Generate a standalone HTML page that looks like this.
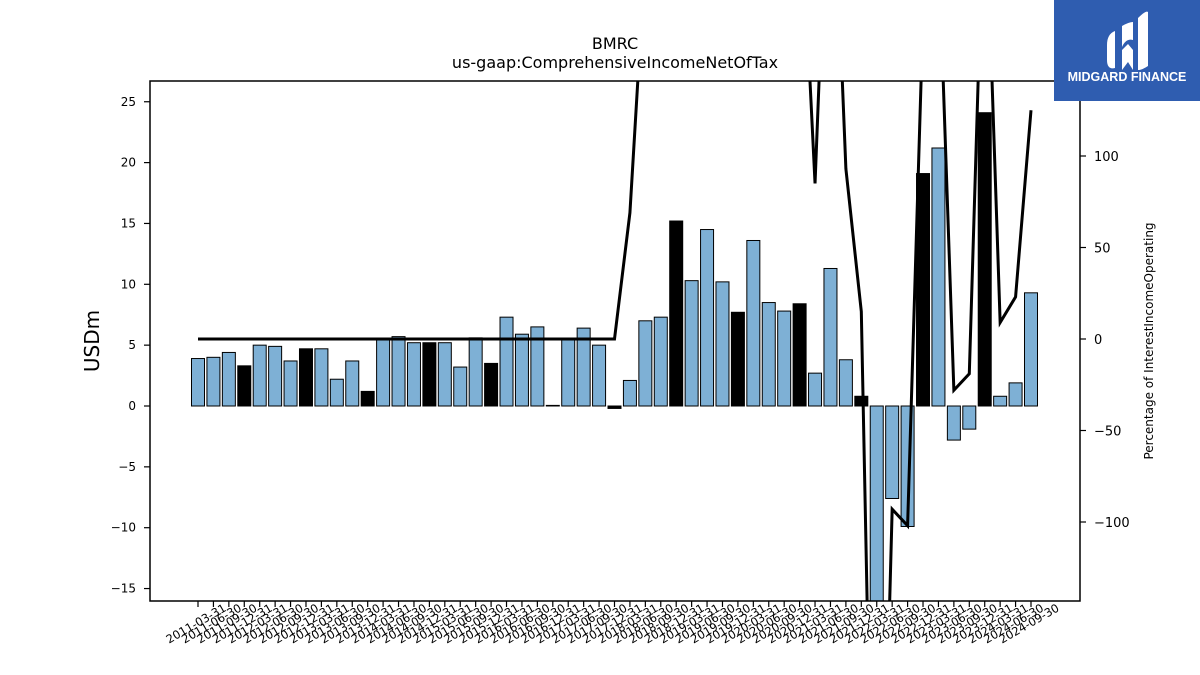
<!DOCTYPE html>
<html><head><meta charset="utf-8"><style>
html,body{margin:0;padding:0;overflow:hidden;width:1200px;height:675px;background:#fff;font-family:"Liberation Sans","DejaVu Sans",sans-serif}
svg{display:block}
</style></head><body>
<svg id="c" width="1200" height="675" xmlns="http://www.w3.org/2000/svg" font-family="DejaVu Sans, Liberation Sans, sans-serif">
<rect width="1200" height="675" fill="#fff"/>
<text x="615" y="49" font-size="16" text-anchor="middle">BMRC</text>
<text x="615" y="68" font-size="16" text-anchor="middle">us-gaap:ComprehensiveIncomeNetOfTax</text>
<text transform="translate(99,341) rotate(-90)" font-size="20" text-anchor="middle">USDm</text>
<text transform="translate(1153,341) rotate(-90)" font-size="12" text-anchor="middle">Percentage of InterestIncomeOperating</text>
<defs><clipPath id="clip"><rect x="150" y="81" width="930" height="520"/></clipPath></defs>
<g id="bars"></g>
<g id="line" clip-path="url(#clip)"></g>
<rect x="150" y="81" width="930" height="520" fill="none" stroke="#000" stroke-width="1.5"/>
<g id="axes"></g>
<g>
<rect x="1054" y="0" width="146" height="101" fill="#2f5db0"/>
<path d="M1107 45 Q1107 34 1115 31 L1115 68 Q1107 70 1107 60 Z" fill="#fff"/>
<path d="M1122 26 Q1129 22 1133 22 L1133 40 Q1126 38 1122 47 Z M1122 50 L1128 44 L1133 50 L1133 70 L1128 62 L1122 70 Z" fill="#fff"/>
<path d="M1138 18 Q1146 10 1148 12 L1148 66 Q1142 70 1138 70 Z" fill="#fff"/>
<text x="1127" y="81" font-size="12.5" font-weight="bold" fill="#fff" text-anchor="middle" font-family="Liberation Sans, sans-serif">MIDGARD FINANCE</text>
</g>
</svg>
<script>
const categories=["2011-03-31","2011-06-30","2011-09-30","2011-12-31","2012-03-31","2012-06-30","2012-09-30","2012-12-31","2013-03-31","2013-06-30","2013-09-30","2013-12-31","2014-03-31","2014-06-30","2014-09-30","2014-12-31","2015-03-31","2015-06-30","2015-09-30","2015-12-31","2016-03-31","2016-06-30","2016-09-30","2016-12-31","2017-03-31","2017-06-30","2017-09-30","2017-12-31","2018-03-31","2018-06-30","2018-09-30","2018-12-31","2019-03-31","2019-06-30","2019-09-30","2019-12-31","2020-03-31","2020-06-30","2020-09-30","2020-12-31","2021-03-31","2021-06-30","2021-09-30","2021-12-31","2022-03-31","2022-06-30","2022-09-30","2022-12-31","2023-03-31","2023-06-30","2023-09-30","2023-12-31","2024-03-31","2024-06-30","2024-09-30"];
const incomeValues=[3.9,4.0,4.4,3.3,5.0,4.9,3.7,4.7,4.7,2.2,3.7,1.2,5.5,5.7,5.2,5.2,5.2,3.2,5.6,3.5,7.3,5.9,6.5,0.05,5.5,6.4,5.0,-0.2,2.1,7.0,7.3,15.2,10.3,14.5,10.2,7.7,13.6,8.5,7.8,8.4,2.7,11.3,3.8,0.8,-16.5,-7.6,-9.9,19.1,21.2,-2.8,-1.9,24.1,0.8,1.9,9.3];
const pctValues=[0,0,0,0,0,0,0,0,0,0,0,0,0,0,0,0,0,0,0,0,0,0,0,0,0,0,0,0,69,210,230,250,260,260,260,260,260,260,260,256,85,300,93,15,-406,-93,-102,176,217,-28,-19,260,9,23,125];
const leftTicks=[-15,-10,-5,0,5,10,15,20,25];
const rightTicks=[-100,-50,0,50,100];
const NS="http://www.w3.org/2000/svg";
const X0=150,X1=1080,Y0=81,Y1=601;
const yL=v=>406-v*12.17;
const yR=v=>339-v*1.83;
const xC=i=>198+i*(1031-198)/(categories.length-1);
function mk(tag,attrs,parent){const e=document.createElementNS(NS,tag);for(const k in attrs)e.setAttribute(k,attrs[k]);parent.appendChild(e);return e;}
const bars=document.getElementById('bars'),line=document.getElementById('line'),axes=document.getElementById('axes');
incomeValues.forEach((v,i)=>{
  const top=Math.max(Y0,Math.min(yL(Math.max(v,0)),Y1)),bot=Math.min(Y1,yL(Math.min(v,0)));
  const q4=categories[i].endsWith('12-31');
  const r=mk('rect',{x:xC(i)-6.5,y:top,width:13,height:Math.max(bot-top,0.5),fill:q4?'#000':'#7eb0d5',stroke:'#000','stroke-width':1},bars);
  
  
});
const pl=mk('polyline',{points:pctValues.map((v,i)=>xC(i)+','+yR(v)).join(' '),fill:'none',stroke:'#000','stroke-width':3,'stroke-linejoin':'miter'},line);


leftTicks.forEach(t=>{const y=yL(t);
  mk('line',{x1:X0-6,x2:X0,y1:y,y2:y,stroke:'#000','stroke-width':1.2},axes);
  const tx=mk('text',{x:X0-14,y:y+4,'font-size':12,'text-anchor':'end'},axes);
  tx.textContent=t<0?'\u2212'+(-t):t;
  
  
});
rightTicks.forEach(t=>{const y=yR(t);
  mk('line',{x1:X1,x2:X1+6,y1:y,y2:y,stroke:'#000','stroke-width':1.2},axes);
  const tx=mk('text',{x:X1+14,y:y+5,'font-size':13,'text-anchor':'start'},axes);
  tx.textContent=t<0?'\u2212'+(-t):t;
  
  
});
categories.forEach((c,i)=>{const x=xC(i);
  mk('line',{x1:x,x2:x,y1:Y1,y2:Y1+6,stroke:'#000','stroke-width':1.2},axes);
  const tx=mk('text',{transform:`translate(${x},${Y1+26}) rotate(-30)`,'font-size':11.5,'text-anchor':'middle'},axes);
  tx.textContent=c;
  
  
});
</script>
</body></html>
